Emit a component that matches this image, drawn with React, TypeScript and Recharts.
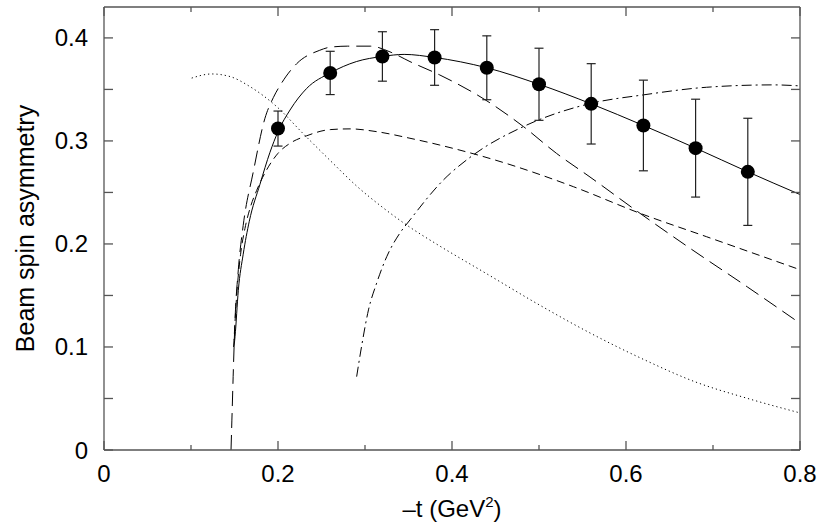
import React from "react";
import {
  ComposedChart,
  Line,
  Scatter,
  ErrorBar,
  XAxis,
  YAxis,
} from "recharts";

// measured beam spin asymmetry: -t, value, error
const dataT = [0.2, 0.26, 0.32, 0.38, 0.44, 0.5, 0.56, 0.62, 0.68, 0.74];
const dataA = [0.312, 0.366, 0.382, 0.381, 0.371, 0.355, 0.336, 0.315, 0.293, 0.27];
const dataErr = [0.017, 0.021, 0.024, 0.027, 0.031, 0.035, 0.039, 0.044, 0.0475, 0.052];

// full calculation (solid)
const solidT = [0.1494, 0.1506, 0.1544, 0.16, 0.167, 0.1793, 0.1908, 0.2, 0.2138, 0.233, 0.26, 0.29, 0.32, 0.345, 0.38, 0.44, 0.5, 0.56, 0.62, 0.68, 0.74, 0.8];
const solidA = [0.1, 0.11, 0.155, 0.19, 0.222, 0.258, 0.289, 0.309, 0.33, 0.351, 0.366, 0.377, 0.382, 0.384, 0.381, 0.371, 0.355, 0.336, 0.315, 0.293, 0.27, 0.248];

// long dashed
const longT = [0.146, 0.147, 0.1487, 0.1506, 0.1544, 0.16, 0.1716, 0.185, 0.1946, 0.204, 0.2215, 0.248, 0.26, 0.28, 0.306, 0.33, 0.3517, 0.386, 0.438, 0.482, 0.52, 0.5586, 0.616, 0.6736, 0.74, 0.8];
const longA = [0, 0.029, 0.078, 0.126, 0.175, 0.218, 0.27, 0.322, 0.342, 0.356, 0.375, 0.388, 0.391, 0.392, 0.392, 0.386, 0.377, 0.364, 0.34, 0.314, 0.288, 0.265, 0.2298, 0.1958, 0.158, 0.123];

// short dashed
const shortT = [0.149, 0.1525, 0.157, 0.162, 0.168, 0.1755, 0.187, 0.2, 0.2138, 0.233, 0.26, 0.283, 0.3134, 0.3517, 0.386, 0.463, 0.5395, 0.616, 0.6927, 0.8];
const shortA = [0.1, 0.15, 0.19, 0.215, 0.235, 0.252, 0.272, 0.288, 0.2977, 0.305, 0.311, 0.3117, 0.309, 0.3026, 0.296, 0.278, 0.2556, 0.2298, 0.207, 0.175];

// dotted
const dotT = [0.1008, 0.1238, 0.1448, 0.1678, 0.1985, 0.229, 0.26, 0.29, 0.321, 0.352, 0.382, 0.44, 0.5, 0.56, 0.62, 0.68, 0.74, 0.8];
const dotA = [0.361, 0.365, 0.3625, 0.3527, 0.3333, 0.307, 0.281, 0.2565, 0.235, 0.216, 0.2, 0.171, 0.141, 0.113, 0.088, 0.066, 0.05, 0.036];

// dash-dotted
const dashDotT = [0.2904, 0.296, 0.304, 0.3134, 0.325, 0.34, 0.3517, 0.39, 0.4245, 0.482, 0.5605, 0.62, 0.6927, 0.769, 0.8];
const dashDotA = [0.0712, 0.1003, 0.136, 0.162, 0.1877, 0.2104, 0.2233, 0.262, 0.2864, 0.3139, 0.3366, 0.3447, 0.3521, 0.3544, 0.3534];

const xTicks = [0, 0.1, 0.2, 0.3, 0.4, 0.5, 0.6, 0.7, 0.8];
const yTicks = [0, 0.05, 0.1, 0.15, 0.2, 0.25, 0.3, 0.35, 0.4];

const FONT = "'Liberation Sans', Arial, Helvetica, sans-serif";
const FRAME = "#555";

const toRows = (ts: number[], as: number[]) => ts.map((t, i) => ({ t, a: as[i] }));

const points = dataT.map((t, i) => ({ t, a: dataA[i], err: dataErr[i] }));
const solid = toRows(solidT, solidA);
const longDash = toRows(longT, longA);
const shortDash = toRows(shortT, shortA);
const dotted = toRows(dotT, dotA);
const dashDot = toRows(dashDotT, dashDotA);

const fmt = (v: number) => (v === 0 ? "0" : v.toFixed(1));
const isMajorX = (v: number) => Math.round(v * 10) % 2 === 0;
const isMajorY = (v: number) => Math.round(v * 100) % 10 === 0;

const BottomTick = (props: any) => {
  const { x, y, payload } = props;
  const major = isMajorX(payload.value);
  return (
    <g>
      <path d={`M${x},${y}V${y - (major ? 9 : 5)}`} stroke={FRAME} strokeWidth={1.3} fill="none" />
      {major && (
        <text x={x} y={y + 32} textAnchor="middle" fontFamily={FONT} fontSize={24} fill="#000">
          {fmt(payload.value)}
        </text>
      )}
    </g>
  );
};

const TopTick = (props: any) => {
  const { x, y, payload } = props;
  const major = isMajorX(payload.value);
  return <path d={`M${x},${y}V${y + (major ? 9 : 5)}`} stroke={FRAME} strokeWidth={1.3} fill="none" />;
};

const LeftTick = (props: any) => {
  const { x, y, payload } = props;
  return (
    <g>
      <path d={`M${x},${y}H${x + 9}`} stroke={FRAME} strokeWidth={1.3} fill="none" />
      {isMajorY(payload.value) && (
        <text x={x - 16} y={y + 8.5} textAnchor="end" fontFamily={FONT} fontSize={24} fill="#000">
          {fmt(payload.value)}
        </text>
      )}
    </g>
  );
};

const RightTick = (props: any) => {
  const { x, y } = props;
  return <path d={`M${x},${y}H${x - 9}`} stroke={FRAME} strokeWidth={1.3} fill="none" />;
};

const XLabel = (props: any) => {
  const vb = props.viewBox;
  return (
    <text x={vb.x + vb.width / 2} y={vb.y + 67} textAnchor="middle" fontFamily={FONT} fontSize={24} fill="#000">
      <tspan>–t (GeV</tspan>
      <tspan dy={-10} fontSize={15}>2</tspan>
      <tspan dy={10}>)</tspan>
    </text>
  );
};

const YLabel = (props: any) => {
  const vb = props.viewBox;
  const cx = 34;
  const cy = vb.y + vb.height / 2;
  return (
    <text
      x={cx}
      y={cy}
      transform={`rotate(-90, ${cx}, ${cy})`}
      textAnchor="middle"
      fontFamily={FONT}
      fontSize={25}
      fill="#000"
    >
      Beam spin asymmetry
    </text>
  );
};

const Dot = (props: any) => <circle cx={props.cx} cy={props.cy} r={7} fill="#000" />;

export default function App() {
  return (
    <div style={{ position: "absolute", left: 0, top: 0, background: "#fff" }}>
      <ComposedChart width={830} height={532} margin={{ top: 6, right: 29, bottom: 0, left: 0 }}>
        <XAxis
          xAxisId="top"
          orientation="top"
          type="number"
          dataKey="t"
          domain={[0, 0.8]}
          ticks={xTicks}
          height={1}
          tickSize={0}
          tickMargin={0}
          tick={<TopTick />}
          axisLine={{ stroke: FRAME, strokeWidth: 1.3 }}
          allowDataOverflow
          interval={0}
        />
        <XAxis
          type="number"
          dataKey="t"
          domain={[0, 0.8]}
          ticks={xTicks}
          height={82}
          tickSize={0}
          tickMargin={0}
          tick={<BottomTick />}
          axisLine={{ stroke: FRAME, strokeWidth: 1.3 }}
          allowDataOverflow
          interval={0}
          label={XLabel}
        />
        <YAxis
          type="number"
          domain={[0, 0.43]}
          ticks={yTicks}
          width={104}
          tickSize={0}
          tickMargin={0}
          tick={<LeftTick />}
          axisLine={{ stroke: FRAME, strokeWidth: 1.3 }}
          allowDataOverflow
          interval={0}
          label={YLabel}
        />
        <YAxis
          yAxisId="right"
          orientation="right"
          type="number"
          domain={[0, 0.43]}
          ticks={yTicks}
          width={1}
          tickSize={0}
          tickMargin={0}
          tick={<RightTick />}
          axisLine={{ stroke: FRAME, strokeWidth: 1.3 }}
          allowDataOverflow
          interval={0}
        />
        <Line data={dotted} dataKey="a" type="monotone" stroke="#000" strokeWidth={1} strokeDasharray="1.2 3" dot={false} isAnimationActive={false} />
        <Line data={dashDot} dataKey="a" type="monotone" stroke="#000" strokeWidth={1} strokeDasharray="10 4 2 4" dot={false} isAnimationActive={false} />
        <Line data={shortDash} dataKey="a" type="monotone" stroke="#000" strokeWidth={1} strokeDasharray="8 5" dot={false} isAnimationActive={false} />
        <Line data={longDash} dataKey="a" type="monotone" stroke="#000" strokeWidth={1} strokeDasharray="15 7" dot={false} isAnimationActive={false} />
        <Line data={solid} dataKey="a" type="monotone" stroke="#000" strokeWidth={1} dot={false} isAnimationActive={false} />
        <Line xAxisId="top" yAxisId="right" data={solid} dataKey="a" stroke="none" dot={false} legendType="none" isAnimationActive={false} />
        <Scatter data={points} dataKey="a" shape={<Dot />} isAnimationActive={false}>
          <ErrorBar dataKey="err" direction="y" width={4.5} stroke="#222" strokeWidth={1.2} isAnimationActive={false} />
        </Scatter>
      </ComposedChart>
    </div>
  );
}
